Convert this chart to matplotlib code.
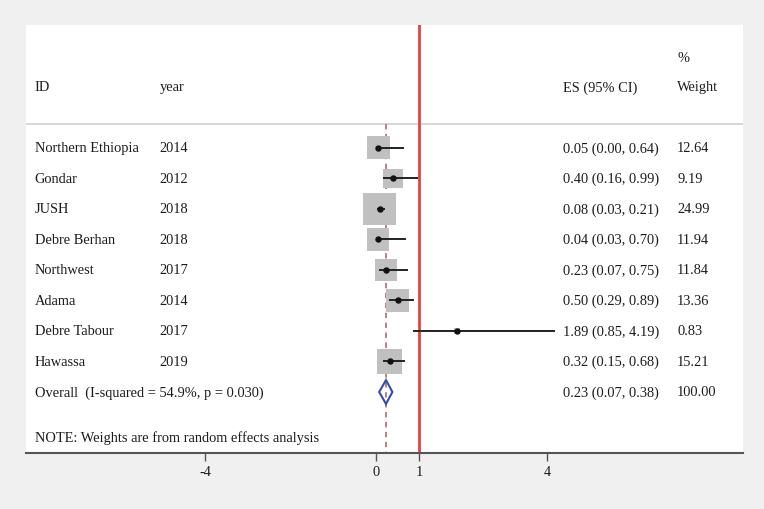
import matplotlib
matplotlib.use("Agg")
import matplotlib.pyplot as plt
from matplotlib.patches import Polygon
import numpy as np

# ---- data ----
studies = ["Northern Ethiopia", "Gondar", "JUSH", "Debre Berhan", "Northwest",
           "Adama", "Debre Tabour", "Hawassa"]
years = ["2014", "2012", "2018", "2018", "2017", "2014", "2017", "2019"]
es = [0.05, 0.40, 0.08, 0.04, 0.23, 0.50, 1.89, 0.32]
lo = [0.00, 0.16, 0.03, 0.03, 0.07, 0.29, 0.85, 0.15]
hi = [0.64, 0.99, 0.21, 0.70, 0.75, 0.89, 4.19, 0.68]
weights = [12.64, 9.19, 24.99, 11.94, 11.84, 13.36, 0.83, 15.21]
overall_es, overall_lo, overall_hi = 0.23, 0.07, 0.38
overall_label = "Overall  (I-squared = 54.9%, p = 0.030)"
note = "NOTE: Weights are from random effects analysis"
xticks = [-4, 0, 1, 4]

plt.rcParams['font.family'] = ['Liberation Serif', 'DejaVu Serif']
FS = 10.4
TXT = "#1c1c1c"

fig = plt.figure(figsize=(7.64, 5.10), dpi=100, facecolor="#f0f0f0")
W, H = 764, 510
ax = fig.add_axes([26 / W, (H - 454) / H, (743 - 26) / W, (454 - 26) / H])
ax.set_facecolor("white")

rows = np.arange(1, len(studies) + 1)
orow = len(studies) + 1

ax.set_xlim(-8.19, 8.58)
ax.set_ylim(11.0, -3.03)

# columns (data x)
x_id, x_year, x_es, x_w = -7.99, -5.06, 4.37, 7.04

# header
ax.text(x_id, -1.0, "ID", fontsize=FS, color=TXT, va="center", ha="left")
ax.text(x_year, -1.0, "year", fontsize=FS, color=TXT, va="center", ha="left")
ax.text(x_es, -1.0, "ES (95% CI)", fontsize=FS, color=TXT, va="center", ha="left")
ax.text(x_w, -1.98, "%", fontsize=FS, color=TXT, va="center", ha="left")
ax.text(x_w, -1.0, "Weight", fontsize=FS, color=TXT, va="center", ha="left")
ax.axhline(0.21, color="#cfcfcf", lw=1.2, zorder=1)

# reference lines
ax.axvline(1, color="#e8423f", lw=2, zorder=2)
ax.plot([overall_es, overall_es], [0.21, 11.0], color="#b4777c", lw=1.3,
        ls=(0, (3, 2.5)), zorder=2)

# boxes, CI, markers
ax.scatter(es, rows, marker="s", s=[21.7 * w for w in weights], color="#c0c0c0",
           linewidths=0, zorder=3)
for r, l, h in zip(rows, lo, hi):
    ax.plot([l, h], [r, r], color="#222222", lw=1.4, zorder=4, solid_capstyle="butt")
ax.plot(es, rows, "o", color="#111111", ms=3.6, zorder=5, ls="none")

# overall diamond
dia = Polygon([[overall_lo, orow], [overall_es, orow - 0.39],
               [overall_hi, orow], [overall_es, orow + 0.39]],
              closed=True, fill=False, edgecolor="#2e4ea8", lw=1.5, zorder=5)
ax.add_patch(dia)

# text columns
for r, s, y, e, l, h, w in zip(rows, studies, years, es, lo, hi, weights):
    ax.text(x_id, r, s, fontsize=FS, color=TXT, va="center", ha="left")
    ax.text(x_year, r, y, fontsize=FS, color=TXT, va="center", ha="left")
    ax.text(x_es, r, f"{e:.2f} ({l:.2f}, {h:.2f})", fontsize=FS, color=TXT,
            va="center", ha="left")
    ax.text(x_w, r, f"{w:.2f}", fontsize=FS, color=TXT, va="center", ha="left")

ax.text(x_id, orow, overall_label, fontsize=FS, color=TXT, va="center", ha="left")
ax.text(x_es, orow, f"{overall_es:.2f} ({overall_lo:.2f}, {overall_hi:.2f})",
        fontsize=FS, color=TXT, va="center", ha="left")
ax.text(x_w, orow, f"{sum(weights):.2f}", fontsize=FS, color=TXT, va="center", ha="left")
ax.text(x_id, 10.48, note, fontsize=FS, color=TXT, va="center", ha="left")

# axes styling
for sp in ["top", "left", "right"]:
    ax.spines[sp].set_visible(False)
ax.spines["bottom"].set_color("#555555")
ax.spines["bottom"].set_linewidth(1.5)
ax.set_yticks([])
ax.set_xticks(xticks)
ax.set_xticklabels([str(t) for t in xticks])
ax.tick_params(axis="x", direction="out", length=6, width=1, color="#555555",
               labelsize=FS, labelcolor=TXT, pad=3)

fig.savefig("out.png", dpi=100, facecolor=fig.get_facecolor())
